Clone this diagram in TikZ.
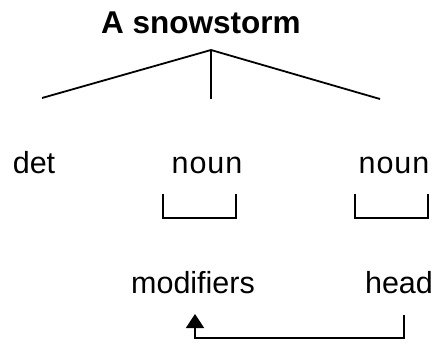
\documentclass[tikz,border=0pt]{standalone}
\usepackage{fontspec}
\setmainfont{Liberation Sans}
\usetikzlibrary{arrows.meta}
\begin{document}
\begin{tikzpicture}[x=1pt,y=-1pt,
  lbl/.style={anchor=base,inner sep=0pt,font=\fontsize{30.5}{36}\selectfont},
  ttl/.style={anchor=base,inner sep=0pt,font=\fontsize{31.5}{36}\selectfont\bfseries},
  ln/.style={line width=1.8pt,line cap=butt}]
\useasboundingbox (0,0) rectangle (438,343);
\node[ttl] (title) at (201,33) {A snowstorm};
\node[lbl] (det) at (34,173) {det};
\node[lbl] (noun1) at (207,173) {n\kern1pt o\kern1pt u\kern1pt n};
\node[lbl] (noun2) at (394,173) {n\kern1pt o\kern1pt u\kern1pt n};
\node[lbl] (mod) at (193,293) {modifiers};
\node[lbl] (head) at (399,293) {head};
\coordinate (apex) at (211,50);
\coordinate (tl) at (42,98);
\coordinate (tm) at (211,99);
\coordinate (tr) at (380,99);
\draw[ln] (tl) -- (apex) -- (tr);
\draw[ln] (apex) -- (tm);
\draw[ln] (163,194) -- (163,218) -- (236,218) -- (236,194);
\draw[ln] (355,194) -- (355,218) -- (428,218) -- (428,194);
\coordinate (hs) at (404,315);
\coordinate (ms) at (195,314);
\draw[ln,-{Triangle[width=18pt,length=14pt]}] (hs) -- (404,338) -| (ms);
\end{tikzpicture}
\end{document}
